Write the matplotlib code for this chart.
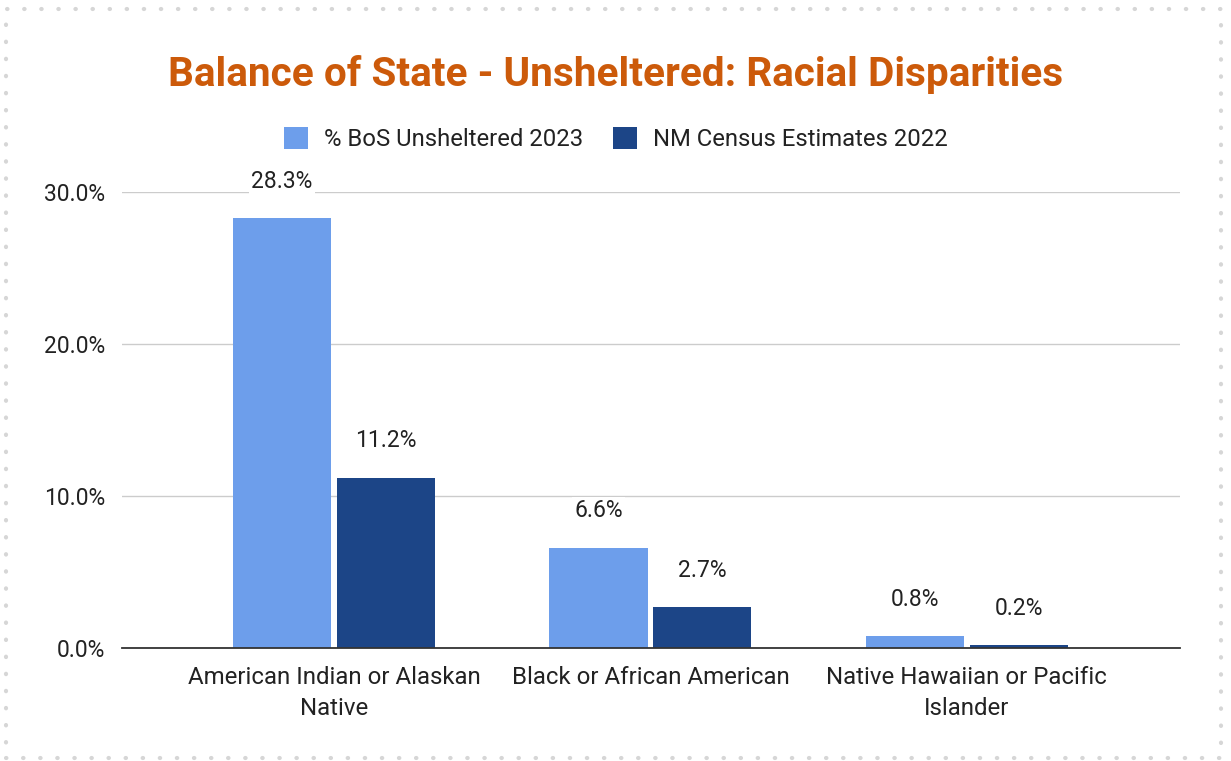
import matplotlib
matplotlib.use("Agg")
import matplotlib.pyplot as plt
import numpy as np
from matplotlib.patches import Rectangle

# data
categories = ["American Indian or Alaskan\nNative", "Black or African American",
              "Native Hawaiian or Pacific\nIslander"]
series_names = ["% BoS Unsheltered 2023", "NM Census Estimates 2022"]
bos_unsheltered = [28.3, 6.6, 0.8]
census_2022 = [11.2, 2.7, 0.2]
y_ticks = [0, 10, 20, 30]

colors = ["#6d9eeb", "#1c4587"]
text_color = "#222222"

plt.rcParams["font.family"] = ["Roboto", "DejaVu Sans"]

fig = plt.figure(figsize=(12.31, 7.61), dpi=100)
ax = fig.add_axes([0.0991, 0.1485, 0.8595, 0.5992])

x = np.arange(len(categories))
width = 0.31
offset = 0.164
for i, (vals, name) in enumerate(zip([bos_unsheltered, census_2022], series_names)):
    pos = x + (-offset if i == 0 else offset)
    bars = ax.bar(pos, vals, width=width, color=colors[i], label=name, zorder=3)
    for b, v in zip(bars, vals):
        ax.annotate(f"{v:.1f}%", (b.get_x() + b.get_width() / 2, v),
                    xytext=(0, 26.5), textcoords="offset points", ha="center",
                    va="center", fontsize=16.5, color=text_color, zorder=5,
                    bbox=dict(boxstyle="square,pad=0.1", fc="white", ec="none"))

ax.set_xlim(-0.67, 2.674)
ax.set_ylim(0, 30)
ax.set_yticks(y_ticks)
ax.set_yticklabels([f"{t:.1f}%" for t in y_ticks], fontsize=16.5, color=text_color)
ax.set_xticks(x)
ax.set_xticklabels(categories, fontsize=17.3, color=text_color, linespacing=1.45)
ax.tick_params(axis="both", length=0)
ax.tick_params(axis="y", pad=12)
ax.tick_params(axis="x", pad=13)
ax.grid(axis="y", color="#cccccc", linewidth=1, zorder=0)
for s in ["top", "right", "left"]:
    ax.spines[s].set_visible(False)
ax.spines["bottom"].set_color("#333333")
ax.spines["bottom"].set_linewidth(1.3)
ax.spines["bottom"].set_zorder(4)

fig.text(0.5, 0.902, "Balance of State - Unsheltered: Racial Disparities",
         ha="center", va="center", fontsize=29.2, fontweight="bold", color="#cc5a0a")

fig.legend(loc="center", bbox_to_anchor=(0.5, 0.817), ncol=2, frameon=False,
           fontsize=17.2, handlelength=1.0, handleheight=1.0, columnspacing=1.25,
           handletextpad=0.67, labelcolor=text_color)

# dotted frame around the chart
fig.patches.append(Rectangle((0.005, 0.004), 0.987, 0.984, transform=fig.transFigure,
                             fill=False, edgecolor="#d6d6d6", linewidth=3,
                             linestyle=(0, (0.1, 4)), capstyle="round"))

fig.savefig("out.png", dpi=100, facecolor="white")
